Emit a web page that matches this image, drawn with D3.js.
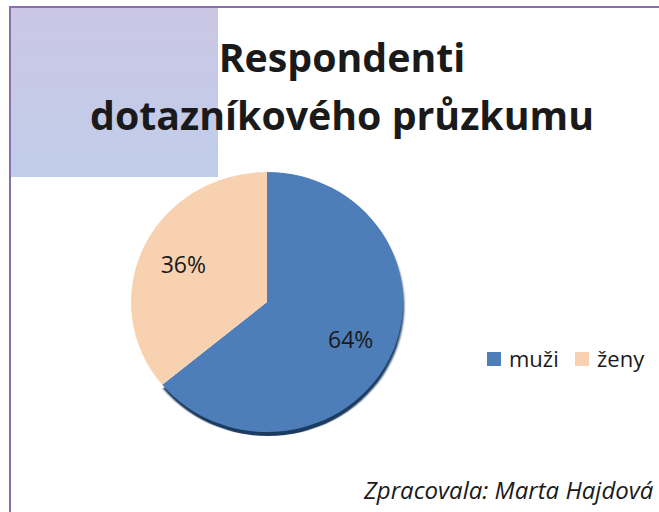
<!DOCTYPE html>
<html>
<head>
<meta charset="utf-8">
<script src="https://cdn.jsdelivr.net/npm/d3@7"></script>
<style>
  body { margin: 0; background: #fff; }
  svg { display: block; }
</style>
</head>
<body>
<div id="chart"></div>
<script>
// data
const categories = ['muži', 'ženy'];
const shares = [64, 36];
const colors = ['#4d7eb9', '#f8d2b0'];
const titleLines = ['Respondenti', 'dotazníkového průzkumu'];
const footnote = 'Zpracovala: Marta Hajdová';

const width = 659, height = 512;
const font = '"Open Sans", Lato, sans-serif';
const svg = d3.select('#chart').append('svg')
    .attr('width', width)
    .attr('height', height);

const defs = svg.append('defs');
const bgGrad = defs.append('linearGradient')
    .attr('id', 'bgGrad')
    .attr('x1', 0).attr('y1', 0).attr('x2', 0).attr('y2', 1);
bgGrad.append('stop').attr('offset', '0%').attr('stop-color', '#cbc7e4');
bgGrad.append('stop').attr('offset', '100%').attr('stop-color', '#c0cde9');

defs.append('filter').attr('id', 'blur')
    .append('feGaussianBlur').attr('stdDeviation', 0.8);

// lavender corner block and frame
svg.append('rect')
    .attr('x', 10).attr('y', 7)
    .attr('width', 208).attr('height', 170)
    .attr('fill', 'url(#bgGrad)');

svg.append('rect')
    .attr('x', 10).attr('y', 7)
    .attr('width', 700).attr('height', 560)
    .attr('fill', 'none')
    .attr('stroke', '#8a6fb0')
    .attr('stroke-width', 2);

// title
const title = svg.append('text')
    .attr('text-anchor', 'middle')
    .attr('font-family', font)
    .attr('font-weight', 'bold')
    .attr('fill', '#1a1a1a');
title.selectAll('tspan')
    .data(titleLines)
    .enter().append('tspan')
    .attr('x', 342)
    .attr('y', (d, i) => 72 + i * 58)
    .text(d => d);
// fit the longer line to its width in the picture
title.attr('font-size', 40);
const w = title.selectAll('tspan').nodes()[1].getComputedTextLength();
title.attr('font-size', 40 * 504 / w);

// pie
const cx = 267, cy = 302, rx = 136, ry = 130;
const pie = d3.pie().sort(null).value(d => d.value);
const arcs = pie(categories.map((c, i) => ({ key: c, value: shares[i], color: colors[i] })));
const arc = d3.arc().innerRadius(0).outerRadius(rx);

const g = svg.append('g').attr('transform', `translate(${cx},${cy})`);

// dark edge under the blue slice
g.append('path')
    .attr('transform', `translate(1,4) scale(1,${ry / rx})`)
    .attr('d', arc(arcs[0]))
    .attr('fill', '#1f3a60')
    .attr('filter', 'url(#blur)');

g.selectAll('path.slice')
    .data(arcs)
    .enter().append('path')
    .attr('class', 'slice')
    .attr('transform', `scale(1,${ry / rx})`)
    .attr('d', arc)
    .attr('fill', d => d.data.color);

const labelArc = d3.arc().innerRadius(rx * 0.68).outerRadius(rx * 0.68);
g.selectAll('text.lbl')
    .data(arcs)
    .enter().append('text')
    .attr('class', 'lbl')
    .attr('transform', d => {
        const [x, y] = labelArc.centroid(d);
        return `translate(${x},${y * ry / rx})`;
    })
    .attr('text-anchor', 'middle')
    .attr('dy', '0.36em')
    .attr('font-family', font)
    .attr('font-size', 23)
    .attr('fill', '#1a1a1a')
    .text(d => d.data.value + '%');

// legend
const legend = svg.append('g').attr('transform', 'translate(487,359)');
const item = legend.selectAll('g')
    .data(categories)
    .enter().append('g')
    .attr('transform', (d, i) => `translate(${i * 88},0)`);
item.append('rect')
    .attr('x', 0).attr('y', -7)
    .attr('width', 14).attr('height', 14)
    .attr('fill', (d, i) => colors[i]);
item.append('text')
    .attr('x', 22)
    .attr('dy', '0.36em')
    .attr('font-family', font)
    .attr('font-size', 22)
    .attr('fill', '#1a1a1a')
    .text(d => d);

// footnote, kept just inside the right edge
svg.append('text')
    .attr('x', 364)
    .attr('y', 499)
    .attr('font-family', font)
    .attr('font-style', 'italic')
    .attr('font-size', 24)
    .attr('fill', '#1a1a1a')
    .text(footnote);
</script>
</body>
</html>
